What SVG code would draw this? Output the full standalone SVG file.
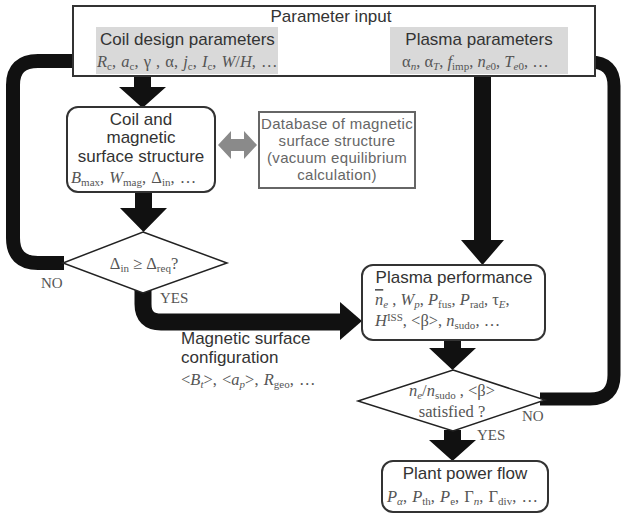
<svg xmlns="http://www.w3.org/2000/svg" width="622" height="517" viewBox="0 0 622 517">
<style>
.box{fill:#fff;stroke:#333;stroke-width:2}
.gray{fill:#d9d9d9;stroke:none}
.s{font-family:"Liberation Sans",Arial,sans-serif;fill:#333;font-size:17px}
.db{font-family:"Liberation Sans",Arial,sans-serif;fill:#666;font-size:15px;letter-spacing:0.3px}
.m{font-family:"Liberation Serif","Times New Roman",serif;fill:#555;font-size:16.5px}
.i{font-style:italic}
.sub{font-size:11px}
.lbl{font-family:"Liberation Serif","Times New Roman",serif;fill:#555;font-size:15px}
.arr{fill:#111}
.thick{fill:none;stroke:#111}
</style>
<g id="connectors">
<path class="arr" d="M134,76H151V87H166L142.5,108L119,87H134Z"/>
<path class="arr" d="M135,192H152V208H167L143.5,232L120,208H135Z"/>
<path class="arr" d="M474,75H491V240H504L482.5,265L461,240H474Z"/>
<path class="arr" d="M444,340H461V348H476L452.5,370L429,348H444Z"/>
<path class="arr" d="M444,430H461V440H476L452.5,461L429,440H444Z"/>
<path class="thick" stroke-width="17" d="M143,290V304Q143,322 161,322H342"/>
<path class="arr" d="M340,302L362,321L340,340Z"/>
<path class="thick" stroke-width="14" d="M64,263H38Q13,263 13,238V85Q13,61 38,61H78"/>
<path class="arr" d="M76,46L95,61L76,76Z"/>
<path class="thick" stroke-width="13" d="M540,399H590Q614,399 614,375V86Q614,62 590,62H584"/>
<path class="arr" d="M587,47L568,62L587,77Z"/>
<path fill="#8a8a8a" d="M218,145L231,131V139H244V131L257,145L244,159V151H231V159Z"/>
</g>
<g id="param-input">
<rect class="box" x="73" y="6" width="522" height="70"/>
<text class="s" x="331" y="22" text-anchor="middle">Parameter input</text>
</g>
<g id="coil-params">
<rect class="gray" x="96" y="27" width="182" height="47"/>
<text class="s" x="100" y="45">Coil design parameters</text>
<text class="m" x="97" y="67" word-spacing="1"><tspan class="i">R</tspan><tspan class="sub" dy="3">c</tspan><tspan dy="-3">, </tspan><tspan class="i">a</tspan><tspan class="sub" dy="3">c</tspan><tspan dy="-3">, γ , α, </tspan><tspan class="i">j</tspan><tspan class="sub" dy="3">c</tspan><tspan dy="-3">, </tspan><tspan class="i">I</tspan><tspan class="sub" dy="3">c</tspan><tspan dy="-3">, </tspan><tspan class="i">W</tspan><tspan>/</tspan><tspan class="i">H</tspan><tspan>, …</tspan></text>
</g>
<g id="plasma-params">
<rect class="gray" x="390" y="27" width="178" height="47"/>
<text class="s" x="479" y="45" text-anchor="middle">Plasma parameters</text>
<text class="m" x="402" y="67"><tspan>α</tspan><tspan class="sub i" dy="3">n</tspan><tspan dy="-3">, α</tspan><tspan class="sub i" dy="3">T</tspan><tspan dy="-3">, </tspan><tspan class="i">f</tspan><tspan class="sub" dy="3">imp</tspan><tspan dy="-3">, </tspan><tspan class="i">n</tspan><tspan class="sub" dy="3"><tspan class="i">e</tspan>0</tspan><tspan dy="-3">, </tspan><tspan class="i">T</tspan><tspan class="sub" dy="3"><tspan class="i">e</tspan>0</tspan><tspan dy="-3">, …</tspan></text>
</g>
<g id="coil-structure">
<rect class="box" x="67" y="107" width="148" height="85" rx="11"/>
<text class="s" x="141" y="125" text-anchor="middle">Coil and</text>
<text class="s" x="141" y="143" text-anchor="middle">magnetic</text>
<text class="s" x="141" y="162" text-anchor="middle">surface structure</text>
<text class="m" x="71" y="183" word-spacing="1"><tspan class="i">B</tspan><tspan class="sub" dy="3">max</tspan><tspan dy="-3">, </tspan><tspan class="i">W</tspan><tspan class="sub" dy="3">mag</tspan><tspan dy="-3">, Δ</tspan><tspan class="sub" dy="3">in</tspan><tspan dy="-3">, …</tspan></text>
</g>
<g id="database">
<rect x="259" y="112" width="156" height="76" fill="#fff" stroke="#666" stroke-width="2"/>
<text class="db" x="337" y="129" text-anchor="middle">Database of magnetic</text>
<text class="db" x="337" y="146" text-anchor="middle">surface structure</text>
<text class="db" x="337" y="163" text-anchor="middle">(vacuum equilibrium</text>
<text class="db" x="337" y="180" text-anchor="middle">calculation)</text>
</g>
<g id="decision-delta">
<path d="M143,232L227,263L143,293L63,263Z" fill="#fff" stroke="#222" stroke-width="1.5"/>
<text class="m" x="144" y="269" text-anchor="middle"><tspan>Δ</tspan><tspan class="sub" dy="3">in</tspan><tspan dy="-3"> ≥ Δ</tspan><tspan class="sub" dy="3">req</tspan><tspan dy="-3">?</tspan></text>
<text class="lbl" x="41" y="288">NO</text>
<text class="lbl" x="160" y="303">YES</text>
</g>
<g id="mag-config">
<text class="s" x="181" y="344">Magnetic surface</text>
<text class="s" x="181" y="363">configuration</text>
<text class="m" x="181" y="385" word-spacing="1"><tspan>&lt;</tspan><tspan class="i">B</tspan><tspan class="sub i" dy="3">t</tspan><tspan dy="-3">&gt;, &lt;</tspan><tspan class="i">a</tspan><tspan class="sub i" dy="3">p</tspan><tspan dy="-3">&gt;, </tspan><tspan class="i">R</tspan><tspan class="sub" dy="3">geo</tspan><tspan dy="-3">, …</tspan></text>
</g>
<g id="plasma-performance">
<rect class="box" x="362" y="265" width="183" height="75" rx="11"/>
<text class="s" x="454" y="283" text-anchor="middle">Plasma performance</text>
<text class="m" x="375" y="305"><tspan class="i" text-decoration="overline">n</tspan><tspan class="sub i" dy="3">e</tspan><tspan dy="-3"> , </tspan><tspan class="i">W</tspan><tspan class="sub i" dy="3">p</tspan><tspan dy="-3">, </tspan><tspan class="i">P</tspan><tspan class="sub" dy="3">fus</tspan><tspan dy="-3">, </tspan><tspan class="i">P</tspan><tspan class="sub" dy="3">rad</tspan><tspan dy="-3">, τ</tspan><tspan class="sub i" dy="3">E</tspan><tspan dy="-3">,</tspan></text>
<text class="m" x="375" y="326"><tspan class="i">H</tspan><tspan class="sub" dy="-5">ISS</tspan><tspan dy="5">, &lt;β&gt;, </tspan><tspan class="i">n</tspan><tspan class="sub" dy="3">sudo</tspan><tspan dy="-3">, …</tspan></text>
</g>
<g id="decision-limits">
<path d="M453,370L545,400L453,431L358,401Z" fill="#fff" stroke="#222" stroke-width="1.5"/>
<text class="m" x="452" y="396" text-anchor="middle"><tspan class="i">n</tspan><tspan class="sub i" dy="3">e</tspan><tspan dy="-3">/</tspan><tspan class="i">n</tspan><tspan class="sub" dy="3">sudo</tspan><tspan dy="-3"> , &lt;β&gt;</tspan></text>
<text class="m" x="452" y="417" text-anchor="middle">satisfied ?</text>
<text class="lbl" x="522" y="421">NO</text>
<text class="lbl" x="477" y="440">YES</text>
</g>
<g id="plant-power">
<rect class="box" x="382" y="461" width="166" height="51" rx="11"/>
<text class="s" x="465" y="479" text-anchor="middle">Plant power flow</text>
<text class="m" x="387" y="502" word-spacing="1"><tspan class="i">P</tspan><tspan class="sub i" dy="3">α</tspan><tspan dy="-3">, </tspan><tspan class="i">P</tspan><tspan class="sub" dy="3">th</tspan><tspan dy="-3">, </tspan><tspan class="i">P</tspan><tspan class="sub" dy="3">e</tspan><tspan dy="-3">, Γ</tspan><tspan class="sub i" dy="3">n</tspan><tspan dy="-3">, Γ</tspan><tspan class="sub" dy="3">div</tspan><tspan dy="-3">, …</tspan></text>
</g>
</svg>
